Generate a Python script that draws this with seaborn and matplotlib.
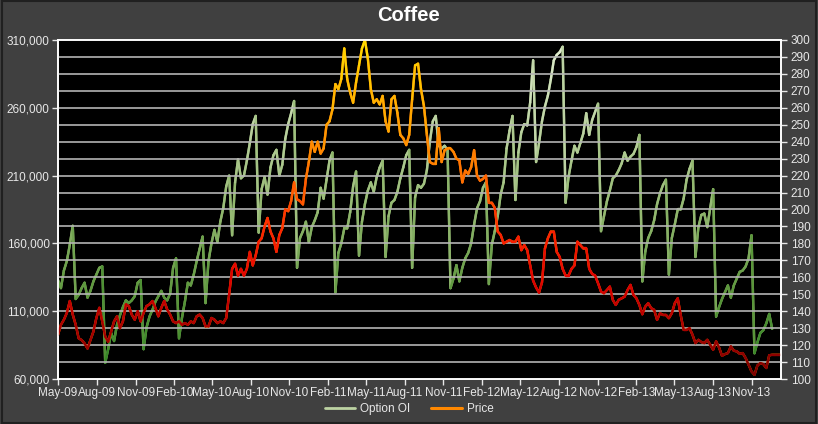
import matplotlib
matplotlib.use("Agg")
import matplotlib.pyplot as plt
import matplotlib.dates as mdates
from matplotlib.collections import LineCollection
from matplotlib.colors import LinearSegmentedColormap, Normalize
from matplotlib.lines import Line2D
from matplotlib.ticker import FuncFormatter, MultipleLocator
import seaborn as sns
import numpy as np
import pandas as pd

# weekly option open interest, thousands of contracts
option_oi_k = [
    133, 127, 140, 147, 159, 173, 119, 122, 127, 131,
    120, 125, 132, 137, 142, 143, 72, 82, 94, 88,
    100, 107, 113, 118, 116, 118, 121, 131, 133, 82,
    98, 106, 111, 117, 121, 125, 120, 118, 123, 142,
    149, 90, 105, 117, 131, 129, 137, 147, 156, 165,
    116, 147, 160, 170, 161, 176, 186, 202, 210, 166,
    205, 222, 208, 210, 221, 234, 248, 254, 168, 200,
    209, 196, 216, 225, 229, 210, 218, 237, 248, 256,
    265, 142, 164, 169, 176, 161, 172, 177, 183, 201,
    193, 207, 221, 227, 124, 153, 160, 171, 171, 183,
    202, 213, 151, 176, 189, 199, 205, 198, 209, 216,
    221, 150, 180, 190, 192, 198, 208, 216, 225, 229,
    142, 194, 203, 201, 204, 214, 235, 250, 254, 232,
    230, 232, 229, 127, 134, 144, 132, 142, 149, 153,
    160, 174, 186, 191, 201, 205, 130, 159, 169, 180,
    196, 205, 230, 243, 254, 192, 227, 242, 248, 247,
    264, 295, 220, 234, 250, 261, 269, 281, 295, 299,
    301, 305, 190, 209, 221, 232, 227, 234, 241, 256,
    240, 251, 257, 263, 169, 180, 191, 199, 208, 210,
    214, 219, 227, 221, 224, 226, 231, 240, 132, 154,
    164, 169, 177, 189, 197, 203, 207, 137, 164, 174,
    185, 185, 193, 207, 215, 221, 150, 172, 181, 182,
    172, 186, 200, 106, 113, 119, 124, 129, 120, 129,
    134, 139, 140, 143, 149, 166, 79, 87, 94, 96,
    101, 108, 97,
]

# weekly coffee price, US cents per lb
price = [
    126, 132, 135, 139, 146, 138, 132, 124, 123, 121,
    118, 123, 128, 136, 142, 134, 125, 122, 128, 134,
    137, 130, 134, 144, 143, 138, 135, 140, 134, 139,
    143, 144, 146, 142, 137, 142, 146, 141, 138, 134,
    133, 134, 132, 133, 132, 134, 133, 137, 138, 136,
    131, 131, 136, 135, 133, 134, 133, 136, 150, 165,
    168, 161, 165, 161, 165, 175, 167, 173, 181, 183,
    190, 195, 187, 183, 175, 185, 189, 200, 199, 205,
    216, 206, 205, 203, 218, 228, 240, 234, 240, 233,
    236, 250, 252, 259, 274, 271, 277, 295, 277, 269,
    263, 275, 285, 295, 300, 289, 271, 263, 265, 262,
    267, 252, 246, 265, 267, 257, 244, 242, 238, 244,
    265, 285, 286, 271, 261, 244, 228, 227, 227, 248,
    228, 235, 236, 236, 234, 230, 229, 216, 223, 221,
    225, 235, 220, 217, 218, 220, 204, 204, 201, 187,
    185, 180, 181, 182, 181, 181, 184, 176, 179, 176,
    167, 158, 154, 151, 157, 177, 183, 187, 187, 175,
    172, 165, 161, 161, 165, 167, 181, 179, 177, 177,
    165, 162, 161, 156.5, 151.6, 150.6, 152.5, 154.5, 146.7, 143.7,
    146.7, 147.6, 148.6, 152.5, 155.5, 149.6, 147.6, 143.7, 138.2, 142.7,
    144.7, 141.8, 140.8, 134.9, 138.8, 137.8, 137.8, 135.9, 138.8, 144.7,
    147.6, 137.8, 129, 129, 130, 126.1, 121.2, 123.1, 121.8, 121.2,
    123.1, 120.2, 117.3, 122.2, 118.6, 113.7, 114.7, 115.3, 119.2, 116.7,
    116.3, 114.9, 115.3, 112.4, 108.4, 104.5, 102.5, 108, 109.4, 108.8,
    106.5, 114, 114.3, 114.3, 114.3, 114.3,
]

start_date = "2009-05-01"
oi_ticks = [60000, 110000, 160000, 210000, 260000, 310000]

oi_df = pd.DataFrame({
    "date": pd.date_range(start_date, periods=len(option_oi_k), freq="7D"),
    "oi": np.array(option_oi_k) * 1000,
})
px_df = pd.DataFrame({
    "date": pd.date_range(start_date, periods=len(price), freq="7D"),
    "price": price,
})

BG = "#404040"
TXT = "#e8e8e8"

sns.set_theme(style="dark", rc={
    "figure.facecolor": BG,
    "axes.facecolor": "black",
    "axes.edgecolor": "white",
    "axes.labelcolor": TXT,
    "xtick.color": TXT,
    "ytick.color": TXT,
    "grid.color": "#b4b4b4",
})
plt.rcParams["font.family"] = ["Liberation Sans", "DejaVu Sans"]

oi_cmap = LinearSegmentedColormap.from_list(
    "oi", ["#2a8220", "#5a963a", "#93b870", "#bcd2a2", "#e4eed4"])
px_cmap = LinearSegmentedColormap.from_list(
    "px", [(0.0, "#780000"), (0.15, "#a80000"), (0.3, "#e00000"),
           (0.45, "#ff2a00"), (0.6, "#ff7000"), (0.75, "#ffa000"),
           (1.0, "#ffe000")])


def gradient_line(ax, dates, values, cmap, vmin, vmax, lw):
    x = mdates.date2num(dates)
    y = np.asarray(values, dtype=float)
    pts = np.column_stack([x, y]).reshape(-1, 1, 2)
    segs = np.concatenate([pts[:-1], pts[1:]], axis=1)
    lc = LineCollection(segs, cmap=cmap, norm=Normalize(vmin, vmax),
                        linewidths=lw, capstyle="round", joinstyle="round")
    lc.set_array((y[:-1] + y[1:]) / 2)
    ax.add_collection(lc)


fig = plt.figure(figsize=(8.18, 4.24), dpi=100)
ax = fig.add_axes([0.0709, 0.1061, 0.8839, 0.7996])
ax2 = ax.twinx()

sns.lineplot(data=oi_df, x="date", y="oi", ax=ax, color="#8fb070", lw=1.7)
gradient_line(ax, oi_df["date"], oi_df["oi"], oi_cmap, 60000, 310000, 1.7)
sns.lineplot(data=px_df, x="date", y="price", ax=ax2, color="#ff7000", lw=1.7)
gradient_line(ax2, px_df["date"], px_df["price"], px_cmap, 100, 300, 1.7)

ax.set_ylim(60000, 310000)
ax2.set_ylim(100, 300)
ax.set_xlim(pd.Timestamp("2009-05-01"), pd.Timestamp("2014-01-10"))

ax.set_yticks(oi_ticks)
ax.yaxis.set_major_formatter(FuncFormatter(lambda v, p: f"{int(v):,}"))
ax2.yaxis.set_major_locator(MultipleLocator(10))
ax.xaxis.set_major_locator(mdates.MonthLocator(bymonth=[2, 5, 8, 11]))
ax.xaxis.set_major_formatter(mdates.DateFormatter("%b-%y"))

ax.grid(False)
ax2.grid(True, axis="y", color="#b4b4b4", lw=1.2)
ax2.set_axisbelow(True)
ax.set_xlabel("")
ax.set_ylabel("")
ax2.set_ylabel("")

for a in (ax, ax2):
    a.tick_params(axis="both", which="major", labelsize=8.5, colors=TXT,
                  length=4, width=1, direction="out", pad=2)
    for s in a.spines.values():
        s.set_color("white")
        s.set_linewidth(1.2)
ax.tick_params(axis="x", bottom=True)
ax.tick_params(axis="y", left=True)
ax2.tick_params(axis="y", right=True, pad=3)

fig.suptitle("Coffee", x=0.5, y=0.985, fontsize=14.5, fontweight="bold",
             color="white", va="top")

handles = [Line2D([], [], color="#bcd2a2", lw=2),
           Line2D([], [], color="#ff8800", lw=2.2)]
fig.legend(handles, ["Option OI", "Price"], loc="lower center",
           bbox_to_anchor=(0.5, -0.005), ncol=2, frameon=False,
           fontsize=8.5, labelcolor=TXT, handlelength=2.6,
           columnspacing=1.8, handletextpad=0.4)

# dark outline of the chart area
fig.patches.append(plt.Rectangle((0.002, 0.002), 0.996, 0.996,
                                 transform=fig.transFigure, fill=False,
                                 edgecolor="#202020", lw=1.5))

fig.savefig("out.png", dpi=100, facecolor=BG)
